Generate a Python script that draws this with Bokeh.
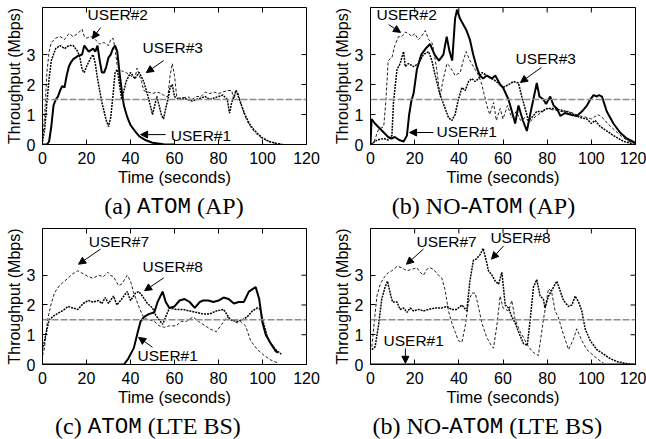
from bokeh.plotting import figure
from bokeh.layouts import row, column
from bokeh.models import Range1d, Label, Arrow, NormalHead, FixedTicker, Span
from bokeh.embed import file_html
from bokeh.resources import INLINE

# ---------------- data: (time s, throughput Mbps) ----------------
a_user1 = [(0,0),(2,0),(3,0.1),(4,0.6),(5,1.3),(6,1.5),(7,1.6),(8,1.8),(9,1.95),(10,1.9),(11,2.3),(12,2.6),
           (13,2.75),(14,2.85),(16,2.95),(18,3.0),(19,3.3),(20,3.2),(21,3.1),(22,3.15),(23,3.2),(24,3.1),(25,3.3),
           (26,2.8),(27,2.4),(28,2.4),(29,2.6),(30,2.9),(31,3.0),(32,3.2),(33,3.3),(34,3.1),(35,2.4),(36.2,1.7),
           (37,1.3),(38.5,0.92),(40,0.65),(42.3,0.42),(44,0.27),(47,0.14),(50,0.06),(55,0.01),(60,0)]
a_user2 = [(0,0.1),(1,1.0),(2,2.4),(3,3.1),(4,3.4),(6,3.55),(8,3.6),(10,3.5),(12,3.7),(14,3.6),(16,3.7),(18,3.85),
           (19,3.6),(20,3.55),(22,3.6),(24,3.5),(26,3.35),(28,3.4),(30,3.3),(31,3.5),(32,3.55),(33,3.2),(34,2.6),
           (36,2.45),(38,2.4),(40,2.3),(42,2.2),(43,2.55),(44,2.3),(45,2.1),(46,1.8),(48,1.75),(50,1.7),(52,1.75),
           (54,1.7),(56,1.6),(57,1.6),(58,2.3),(59,2.7),(60,2.3),(61,1.6),(62,1.55),(64,1.55),(66,1.6),(68,1.5),
           (70,1.6),(72,1.6),(74,1.75),(76,1.7),(78,1.75),(80,1.7),(82,1.75),(84,1.8),(86,1.8),(87,1.5),(88,1.8),
           (89,1.7),(90,1.4),(92,0.95),(94,0.65),(96,0.45),(98,0.3),(100,0.2),(103,0.1),(106,0.04),(109,0)]
a_user3 = [(0,0.1),(1,0.5),(2,1.4),(3,2.2),(4,2.8),(6,3.2),(8,3.3),(10,3.2),(12,3.3),(14,3.3),(16,3.1),(17,2.9),
           (18,2.5),(19,2.4),(20,2.6),(22,2.9),(23,3.0),(24,2.7),(25,2.2),(26,1.8),(27,1.4),(28,1.1),(29,0.8),
           (30,0.6),(31,0.9),(32,1.6),(33,2.4),(34,2.5),(35,2.0),(36,1.5),(37,1.8),(38,2.1),(40,2.4),(42,2.2),
           (44,2.4),(46,2.1),(48,1.6),(50,1.0),(52,1.6),(54,1.0),(55,0.85),(56,1.2),(57,1.5),(58,1.9),(59,2.0),
           (60,1.6),(62,1.5),(64,1.55),(66,1.5),(68,1.45),(70,1.5),(72,1.55),(74,1.6),(76,1.5),(78,1.55),(80,1.6),
           (82,1.65),(84,1.5),(85,1.05),(86,1.4),(87,1.6),(88,1.8),(89,1.6),(90,1.4),(92,1.0),(94,0.7),(96,0.5),
           (98,0.35),(100,0.22),(103,0.1),(106,0.04),(109,0)]

b_user1 = [(0,0),(0.5,0.85),(2,0.7),(4,0.55),(6,0.4),(8,0.25),(9.5,0.2),(11,0.25),(13,0.15),(15,0.1),(16.5,0.3),
           (17.5,1.0),(18.5,1.45),(19.5,1.7),(21,2.5),(23,3.0),(25,3.2),(27,3.35),(29,3.0),(31,2.8),(33,3.0),
           (34.5,3.6),(35.8,3.1),(37,2.8),(38.3,4.2),(39.2,4.5),(40.5,4.2),(42,4.0),(43.5,3.8),(45,3.5),(46.5,3.0),
           (48,2.6),(49.5,2.3),(51,2.2),(52.7,2.3),(55,2.2),(56.5,2.3),(58.7,2.0),(60,1.9),(62.5,1.5),(64.8,0.9),
           (65.5,0.7),(67,1.3),(69,0.8),(70.8,0.45),(72.3,1.0),(75.3,2.05),(76.5,1.6),(78.3,1.5),(79.5,1.35),
           (81.4,1.6),(82.9,1.3),(84.4,1.2),(86,0.95),(88,1.05),(90.4,1.0),(93.4,0.95),(95.7,1.1),(98,1.3),
           (99.5,1.5),(101,1.65),(102.5,1.6),(103.5,1.65),(104.8,1.6),(107,1.1),(110,0.7),(113,0.4),(116,0.2),(120,0.05)]
b_user2 = [(0,0),(1.4,0.05),(3.6,0.5),(6,0.6),(7,1.5),(8,2.8),(9.7,2.9),(11,3.3),(12.7,3.6),(14.2,3.6),(15.7,3.75),
           (17.2,3.7),(18.7,3.6),(20,3.7),(21.7,3.5),(23,3.6),(24.8,3.8),(26.3,3.5),(27.8,3.4),(28.5,3.2),(30,2.5),
           (31.5,1.6),(33,2.2),(34.6,2.7),(36,2.6),(38.3,2.3),(40.6,2.4),(42,2.8),(43.3,3.1),(45,2.8),(47.4,2.5),
           (49,2.3),(50.4,2.0),(52.7,1.3),(54,1.0),(55.7,1.4),(57,0.8),(58.7,1.2),(60,0.85),(62,1.3),(64,0.9),
           (66,1.1),(68,0.8),(70,0.9),(72,0.75),(75,0.95),(78,1.1),(80,1.2),(83,1.15),(86,1.1),(90,1.1),(93,1.0),
           (95,0.95),(98,0.9),(100,0.85),(103,1.0),(105,0.9),(108,0.65),(111,0.45),(114,0.25),(117,0.1),(120,0.03)]
b_user3 = [(0,0),(3,0.15),(6,0.2),(8,0.15),(9.7,0.3),(10.4,1.4),(12,2.5),(13.4,2.7),(15,3.1),(15.7,2.6),(17.2,2.7),
           (19.5,2.6),(21.7,2.7),(24,3.0),(26.3,3.1),(27.8,2.8),(29,2.4),(31,1.8),(32.3,1.5),(33.8,1.2),(35.3,0.9),
           (36.8,0.8),(38.3,1.0),(39.8,1.5),(41.4,1.9),(42.9,1.8),(44.4,2.1),(45.9,2.2),(47.4,2.1),(49,2.2),
           (50.4,2.4),(52.7,2.3),(55,2.2),(57,2.1),(60,1.9),(62.5,2.0),(64.8,2.1),(67,2.05),(68.5,1.6),(70,1.2),
           (71.5,0.8),(73,0.9),(75.3,1.1),(77.6,1.1),(79.8,1.2),(82.9,1.2),(86,1.15),(89,1.1),(92,1.0),(95,0.9),
           (98,0.85),(100,0.7),(101.7,0.8),(104,0.6),(107,0.45),(110,0.3),(114.6,0.1),(119,0.02)]

c_user1 = [(0,0),(37,0),(39,0.2),(41.5,0.55),(43,1.0),(44.6,1.45),(46.2,1.6),(48.5,1.7),(50.8,1.75),(52.3,2.1),
           (54.6,2.45),(56,2.1),(57.7,1.9),(60,1.95),(62.3,2.15),(64.6,2.2),(66.9,2.1),(69.2,1.9),(71.5,2.1),
           (73,2.15),(75.4,2.15),(77.7,2.1),(80,2.15),(82.3,2.25),(84.6,2.2),(87,2.05),(89.2,2.1),(91.5,2.1),
           (93.8,2.45),(96.9,2.6),(98.5,2.2),(100,1.4),(101.5,1.0),(103.8,0.7),(106,0.45),(107,0.4)]
c_user7 = [(0,0.3),(0.8,0.5),(2.3,1.5),(3.8,2.0),(5.4,2.4),(7.7,2.65),(10,2.8),(11.5,2.9),(13.8,3.05),(16,3.15),
           (18.5,3.05),(20.8,2.95),(23,2.9),(25.4,3.0),(27.7,2.95),(29.7,3.1),(30.8,3.0),(32.3,2.95),(34.6,2.65),
           (36,2.7),(38.5,3.0),(40,2.8),(41.5,2.4),(43,2.1),(44.6,1.8),(46.2,1.55),(48.5,1.5),(50.8,1.45),(53,1.3),
           (55.4,1.25),(57.7,1.3),(60.8,1.3),(63,1.45),(65.4,1.45),(68.5,1.6),(70.8,1.45),(73,1.35),(76,1.2),
           (79,1.1),(81.5,1.35),(83.8,1.6),(87,1.45),(88.5,1.4),(90,1.45),(92.3,1.3),(94.6,0.8),(97.7,0.5),
           (100.8,0.3),(103.8,0.15),(107,0.05)]
c_user8 = [(0,0.5),(1.5,1.0),(3,1.5),(5.4,1.65),(7.7,1.75),(10,1.85),(11.5,1.95),(13.8,1.9),(16,1.85),(18.5,2.05),
           (20.8,2.15),(23,2.1),(25.4,2.15),(27,2.05),(28.5,2.25),(30,2.05),(32.3,2.3),(33.8,2.0),(36,2.2),
           (38.5,2.45),(40,2.15),(42.3,2.4),(43.8,2.45),(45.4,2.3),(47.7,2.05),(50,1.9),(51.5,1.65),(54.6,1.35),
           (56,1.6),(57.7,1.9),(60.8,1.85),(63.8,1.85),(66.9,1.8),(70,1.75),(73,1.7),(76,1.7),(79,1.8),(82.3,1.85),
           (85.4,1.5),(88.5,1.45),(90.8,1.5),(93,1.6),(95.4,1.8),(97.7,1.9),(99,1.85),(100.8,1.3),(102.3,0.9),
           (103.8,0.7),(106,0.5),(108.5,0.35)]

d_user1 = [(0,0),(120,0)]
d_user7 = [(0.6,0.6),(2.9,2.3),(4.4,2.7),(5.9,2.9),(8.2,3.1),(9.7,3.15),(12,3.3),(14.2,3.25),(16.5,3.15),
           (18.7,3.2),(21,3.25),(22.5,3.1),(24,3.0),(25.5,3.2),(27,3.25),(28.5,3.2),(30.8,3.0),(32.3,2.9),
           (33.8,2.5),(35.3,1.8),(36.8,1.4),(38.3,1.1),(39.8,0.8),(41.4,0.75),(42.9,1.3),(44.4,2.1),(45.9,2.4),
           (47.4,2.4),(49,1.9),(50.4,1.4),(52.7,0.9),(55,0.6),(55.7,0.55),(57.2,1.3),(58.7,2.3),(60,1.9),
           (62.5,1.8),(64,2.15),(65.5,1.5),(67.8,1.1),(69.3,0.9),(71.5,0.6),(73.8,0.4),(76,0.3),(78.3,1.5),
           (80.6,2.55),(82,2.45),(83.6,1.8),(85,1.6),(87.4,1.0),(89.7,0.5),(91.9,0.85),(93.4,1.2),(95.7,0.8),
           (98,0.5),(101,0.3),(104,0.12),(105.5,0.05)]
d_user8 = [(0.6,0.5),(2.1,0.6),(3.6,1.3),(5.1,2.2),(6.6,2.6),(7.7,2.8),(8.9,2.4),(10,2.1),(12,2.1),(13.4,1.85),
           (15,1.9),(16.5,1.75),(18,1.9),(19.5,1.8),(21.7,1.85),(24,1.8),(26.3,1.85),(29.3,1.9),(32.3,1.9),
           (34.6,1.95),(36.8,1.85),(39,1.85),(41.4,2.0),(43.6,1.8),(45,2.8),(46.6,3.5),(48,3.55),(49.7,3.7),
           (51,3.9),(52.7,3.4),(53.4,3.15),(55,3.0),(56.5,2.8),(58,2.7),(59.5,3.1),(61,2.0),(62.5,1.9),(64,1.6),
           (65.5,1.4),(67,1.1),(69.3,0.7),(71,0.65),(72.3,1.5),(73.8,2.6),(75.3,2.85),(76.8,2.3),(78.3,2.2),
           (79,1.9),(80.6,2.3),(82.9,2.6),(84.4,2.8),(86,2.45),(87.4,2.15),(89.7,1.95),(91.2,2.0),(92.7,2.3),
           (94.2,2.1),(95.7,1.8),(97.2,1.2),(99.5,0.8),(102.5,0.5),(105.5,0.35),(108.5,0.2),(111.5,0.1),
           (116,0.03),(119,0)]

x_ticks = [0, 20, 40, 60, 80, 100, 120]
y_ticks = [0, 1, 2, 3]
threshold = 1.5

SANS = "Liberation Sans"
SERIF = "Liberation Serif"
MONO = "Liberation Mono"
XMAX, YMAX = 120, 4.57
TICK = 5  # px

def split(pairs):
    return [p[0] for p in pairs], [p[1] for p in pairs]

def style_axis(ax):
    ax.major_tick_in = TICK
    ax.major_tick_out = 0
    ax.minor_tick_in = 0
    ax.minor_tick_out = 0
    ax.axis_line_color = "black"
    ax.major_tick_line_color = "black"
    ax.major_label_text_font = SANS
    ax.major_label_text_font_size = "16px"
    ax.major_label_text_color = "black"
    ax.major_label_standoff = 7
    ax.axis_label_text_font = SANS
    ax.axis_label_text_font_style = "normal"
    ax.axis_label_text_color = "black"

def make_fig(w, h, bl, br, bt, bb):
    p = figure(width=w, height=h, x_range=Range1d(0, XMAX), y_range=Range1d(0, YMAX),
               output_backend="svg", toolbar_location=None,
               min_border_left=bl, min_border_right=br, min_border_top=bt, min_border_bottom=bb)
    p.xgrid.visible = False
    p.ygrid.visible = False
    p.outline_line_color = "black"
    p.outline_line_alpha = 1
    p.outline_line_width = 1
    xax = p.below[0]
    yax = p.left[0]
    xax.ticker = FixedTicker(ticks=x_ticks)
    yax.ticker = FixedTicker(ticks=y_ticks)
    style_axis(xax)
    style_axis(yax)
    xax.axis_label = "Time (seconds)"
    yax.axis_label = "Throughput (Mbps)"
    xax.axis_label_text_font_size = "16.5px"
    yax.axis_label_text_font_size = "16px"
    xax.axis_label_standoff = 1
    yax.axis_label_standoff = 1
    # mirrored inner ticks on top and right borders
    fw, fh = w - bl - br, h - bt - bb
    dy = TICK * YMAX / fh
    dx = TICK * XMAX / fw
    p.segment(x0=x_ticks, y0=[YMAX] * len(x_ticks), x1=x_ticks, y1=[YMAX - dy] * len(x_ticks),
              line_color="black", line_width=1)
    p.segment(x0=[XMAX] * len(y_ticks), y0=y_ticks, x1=[XMAX - dx] * len(y_ticks), y1=y_ticks,
              line_color="black", line_width=1)
    p.add_layout(Span(location=threshold, dimension="width", line_color="#8c8c8c",
                      line_width=1.5, line_dash="7 2"))
    return p

# advance widths (em) used to lay out caption pieces
SERIF_W = {"(": 0.333, ")": 0.333, " ": 0.25, "a": 0.444, "b": 0.5, "c": 0.444, "N": 0.722, "O": 0.722,
           "-": 0.333, "A": 0.722, "P": 0.556, "L": 0.611, "T": 0.611, "E": 0.611, "B": 0.667, "S": 0.556}
S_SERIF, S_MONO = 24, 22.5

def piece_width(txt, font):
    if font == MONO:
        return 0.6 * S_MONO * len(txt)
    return sum(SERIF_W[ch] for ch in txt) * S_SERIF

def caption_fig(w, h, ymid, center, pieces):
    c = figure(width=w, height=h, x_range=Range1d(0, w), y_range=Range1d(0, h),
               output_backend="svg", toolbar_location=None, x_axis_type=None, y_axis_type=None,
               min_border=0)
    c.outline_line_color = None
    c.xgrid.visible = False
    c.ygrid.visible = False
    total = sum(piece_width(t, f) for t, f in pieces)
    x = center - total / 2
    for txt, font in pieces:
        shown = txt.strip()
        lead = piece_width(txt[:len(txt) - len(txt.lstrip())], font) if txt != shown else 0
        size = S_MONO if font == MONO else S_SERIF
        yy = (h - ymid) + (-1.0 if font == MONO else 0)
        c.add_layout(Label(x=x + lead, y=yy, text=shown, text_align="left", text_baseline="middle",
                           text_font=font, text_font_size=f"{size}px", text_color="black"))
        x += piece_width(txt, font)
    return c

def user(p, text, x, ymid, x0, y0, x1, y1):
    p.add_layout(Label(x=x, y=ymid, text=text, text_font=SANS, text_font_size="15.5px",
                       text_baseline="middle", text_align="left", text_color="black"))
    p.add_layout(Arrow(end=NormalHead(size=7, fill_color="black", line_color="black", line_width=1),
                       x_start=x0, y_start=y0, x_end=x1, y_end=y1, line_color="black", line_width=1))

def draw(p, solid, dashed, dotted):
    t, v = split(solid)
    p.line(t, v, line_color="black", line_width=2)
    t, v = split(dashed)
    p.line(t, v, line_color="#222222", line_width=1, line_dash="3 2")
    t, v = split(dotted)
    p.line(t, v, line_color="black", line_width=1.5, line_dash="2 1")

# top row: frame y 7..144 ; bottom row: frame y 228..364 (page px)
pa = make_fig(323, 190, 42, 17, 7, 46)
pb = make_fig(323, 190, 47, 11, 7, 46)
pc = make_fig(323, 190, 42, 17, 8, 46)
pd = make_fig(323, 190, 47, 11, 8, 46)

draw(pa, a_user1, a_user2, a_user3)
draw(pb, b_user1, b_user2, b_user3)
draw(pc, c_user1, c_user7, c_user8)
draw(pd, d_user1, d_user7, d_user8)

user(pa, "USER#2", 20.5, 4.32, 26.4, 3.9, 22.7, 3.53)
user(pa, "USER#3", 45.5, 3.22, 55.1, 2.8, 47.2, 2.4)
user(pa, "USER#1", 58.3, 0.3, 56.0, 0.33, 44.6, 0.33)

user(pb, "USER#2", 2.7, 4.32, 8.2, 4.0, 13.6, 3.74)
user(pb, "USER#3", 65.7, 2.88, 77.4, 2.57, 67.9, 2.07)
user(pb, "USER#1", 29.9, 0.45, 28.5, 0.4, 17.7, 0.4)

user(pc, "USER#7", 21.0, 4.13, 26.4, 3.88, 16.4, 3.37)
user(pc, "USER#8", 45.5, 3.29, 55.1, 2.91, 46.4, 2.48)
user(pc, "USER#1", 43.2, 0.29, 50.0, 0.58, 43.7, 0.91)

user(pd, "USER#7", 20.8, 4.13, 24.0, 3.88, 16.3, 3.37)
user(pd, "USER#8", 54.3, 4.27, 60.2, 3.98, 54.8, 3.54)
user(pd, "USER#1", 5.9, 0.8, 15.8, 0.54, 15.8, 0.04)

ca = caption_fig(323, 30, 15, 173.5, [("(a) ", SERIF), ("ATOM", MONO), (" (AP)", SERIF)])
cb = caption_fig(323, 30, 15, 160, [("(b) NO-", SERIF), ("ATOM", MONO), (" (AP)", SERIF)])
cc = caption_fig(323, 29, 15, 148.5, [("(c) ", SERIF), ("ATOM", MONO), (" (LTE BS)", SERIF)])
cd = caption_fig(323, 29, 15, 165, [("(b) NO-", SERIF), ("ATOM", MONO), (" (LTE BS)", SERIF)])

layout = column(row(pa, pb), row(ca, cb), row(pc, pd), row(cc, cd))
open("out.html", "w").write(file_html(layout, INLINE))
